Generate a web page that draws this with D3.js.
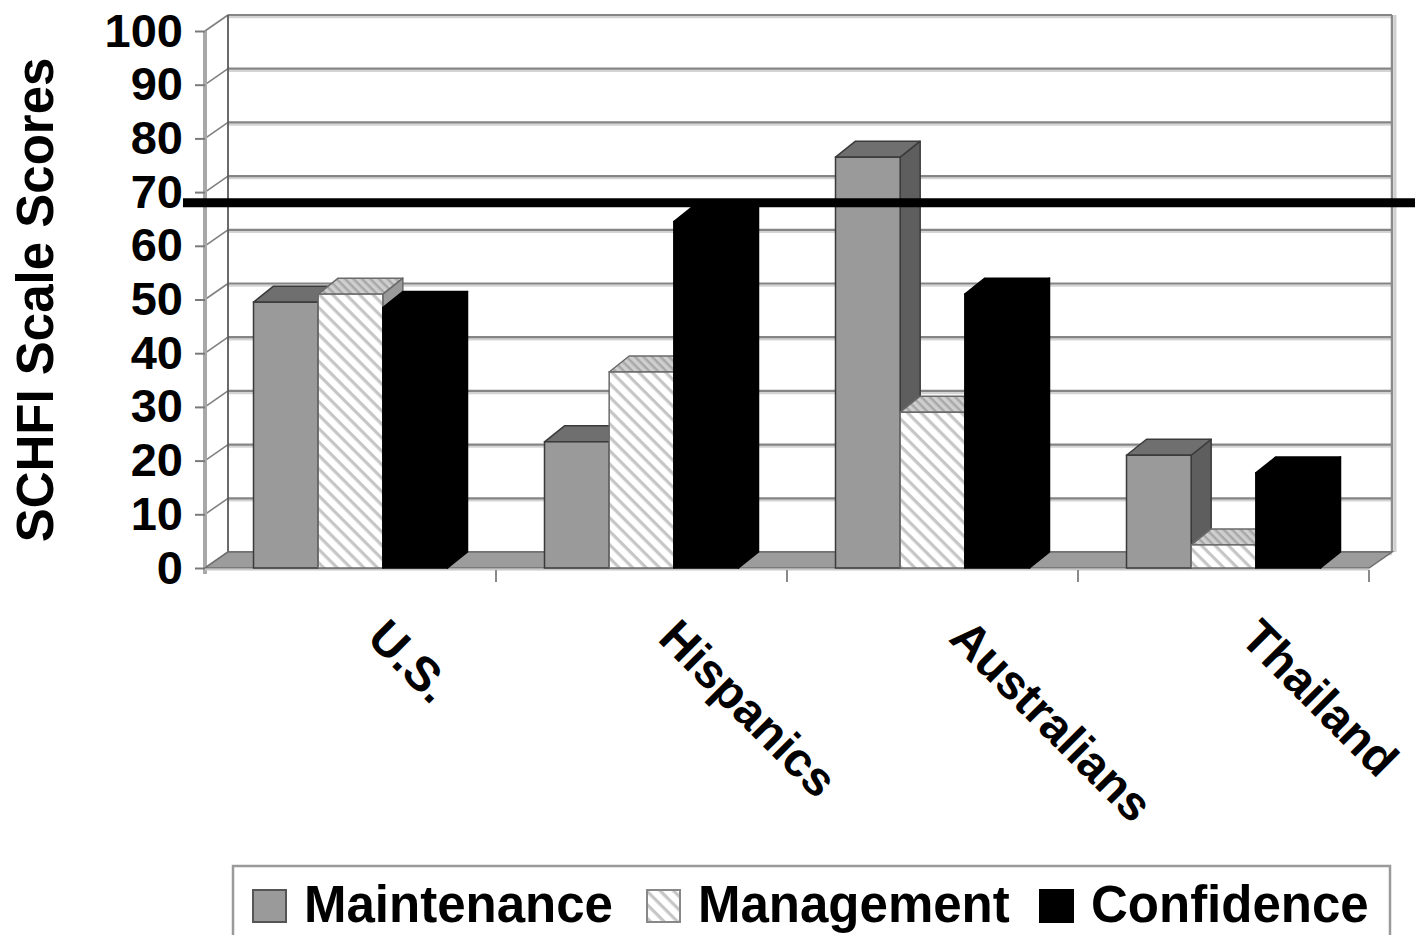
<!DOCTYPE html>
<html>
<head>
<meta charset="utf-8">
<script src="https://cdn.jsdelivr.net/npm/d3@7/dist/d3.min.js"></script>
<style>
  html, body { margin: 0; padding: 0; background: #fff; }
  svg { display: block; }
  text { font-family: "Liberation Sans", Arial, sans-serif; font-weight: bold; fill: #000; }
</style>
</head>
<body>
<svg id="chart" width="1415" height="935"></svg>
<script>
// SCHFI subscale scores by sample
const categories = ["U.S.", "Hispanics", "Australians", "Thailand"];
const seriesNames = ["Maintenance", "Management", "Confidence"];
const maintenance = [49.5, 23.5, 76.5, 21];
const management = [51, 36.5, 29, 4.3];
const confidence = [48.5, 64.5, 51, 17.7];
const yTicks = [0, 10, 20, 30, 40, 50, 60, 70, 80, 90, 100];
const cutoff = 68;
const yTitle = "SCHFI Scale Scores";

const seriesValues = [maintenance, management, confidence];

const svg = d3.select("#chart");
const defs = svg.append("defs");

// diagonal hatch used by the Management series
defs.append("pattern")
  .attr("id", "hatch")
  .attr("patternUnits", "userSpaceOnUse")
  .attr("width", 9.5).attr("height", 9.5)
  .attr("patternTransform", "rotate(45)")
  .call(p => {
    p.append("rect").attr("width", 9.5).attr("height", 9.5).attr("fill", "#fff");
    p.append("rect").attr("width", 9.5).attr("height", 3.2).attr("fill", "#c6c6c6");
  });
defs.append("pattern")
  .attr("id", "hatchTop")
  .attr("patternUnits", "userSpaceOnUse")
  .attr("width", 6).attr("height", 6)
  .attr("patternTransform", "rotate(45)")
  .call(p => {
    p.append("rect").attr("width", 6).attr("height", 6).attr("fill", "#cfcfcf");
    p.append("rect").attr("width", 6).attr("height", 2.5).attr("fill", "#a8a8a8");
  });

// plot geometry: front plane plus a receding depth
const x0 = 205, x1 = 1369;
const wallDX = 23, wallDY = -16;
const barDX = 20, barDY = -16;

const y = d3.scaleLinear().domain([0, 100]).range([568, 31]);
const x = d3.scaleBand().domain(categories).range([x0, x1])
  .paddingInner(1 / 3).paddingOuter(1 / 6);
const xs = d3.scaleBand().domain(seriesNames).range([0, x.bandwidth()]);

const faces = {
  Maintenance: { front: "#9a9a9a", top: "#6f6f6f", side: "#5e5e5e", stroke: "#3a3a3a" },
  Management: { front: "url(#hatch)", top: "url(#hatchTop)", side: "#9a9a9a", stroke: "#6a6a6a" },
  Confidence: { front: "#000", top: "#000", side: "#000", stroke: "#000" }
};

// back wall gridlines
const grid = svg.append("g");
yTicks.forEach(t => {
  const yy = y(t) + wallDY;
  grid.append("line")
    .attr("x1", x0 + wallDX).attr("x2", x1 + wallDX)
    .attr("y1", yy + 2).attr("y2", yy + 2)
    .attr("stroke", "#d4d4d4").attr("stroke-width", 2.5);
  grid.append("line")
    .attr("x1", x0 + wallDX).attr("x2", x1 + wallDX)
    .attr("y1", yy).attr("y2", yy)
    .attr("stroke", "#858585").attr("stroke-width", 2.2);
  // receding lines on the side wall
  grid.append("line")
    .attr("x1", x0).attr("y1", y(t))
    .attr("x2", x0 + wallDX).attr("y2", yy)
    .attr("stroke", "#808080").attr("stroke-width", 1.6);
});
// wall edges
grid.append("line")
  .attr("x1", x0 + wallDX).attr("x2", x0 + wallDX)
  .attr("y1", y(100) + wallDY).attr("y2", y(0) + wallDY)
  .attr("stroke", "#5a5a5a").attr("stroke-width", 1.8);
grid.append("line")
  .attr("x1", x1 + wallDX).attr("x2", x1 + wallDX)
  .attr("y1", y(100) + wallDY).attr("y2", y(0) + wallDY)
  .attr("stroke", "#8a8a8a").attr("stroke-width", 2.5);
grid.append("line")
  .attr("x1", x1 + wallDX + 3).attr("x2", x1 + wallDX + 3)
  .attr("y1", y(100) + wallDY).attr("y2", y(0) + wallDY)
  .attr("stroke", "#d0d0d0").attr("stroke-width", 3);

// value axis on the front plane
const yAxis = d3.axisLeft(y).tickValues(yTicks).tickSize(10).tickPadding(12);
const ya = svg.append("g").attr("transform", `translate(${x0},0)`).call(yAxis);
ya.select(".domain").attr("stroke", "#a8a8a8").attr("stroke-width", 4)
  .attr("d", `M0,${y(100)}V${y(0) + 6}`);
ya.selectAll(".tick line").attr("stroke", "#7a7a7a").attr("stroke-width", 2);
ya.selectAll(".tick text")
  .style("font-size", "47px")
  .style("font-family", "'Liberation Sans', Arial, sans-serif")
  .style("font-weight", "bold")
  .attr("fill", "#000");

// floor
const floorPts = [
  [x0, y(0)], [x1, y(0)], [x1 + wallDX, y(0) + wallDY], [x0 + wallDX, y(0) + wallDY]
];
svg.append("polygon")
  .attr("points", floorPts.map(p => p.join(",")).join(" "))
  .attr("fill", "#9c9c9c").attr("stroke", "#6e6e6e").attr("stroke-width", 1.5);
svg.append("line")
  .attr("x1", x0).attr("x2", x1).attr("y1", y(0) + 1.5).attr("y2", y(0) + 1.5)
  .attr("stroke", "#c8c8c8").attr("stroke-width", 2);

// category boundary ticks under the floor
const bounds = categories.map(c => x(c) - x.step() * x.paddingInner() / 2).concat([x1]);
svg.append("g").selectAll("line").data(bounds.slice(1)).join("line")
  .attr("x1", d => d).attr("x2", d => d)
  .attr("y1", y(0) + 2).attr("y2", y(0) + 14)
  .attr("stroke", "#8a8a8a").attr("stroke-width", 2);

// 3-D columns, painted left to right
const bars = svg.append("g");
categories.forEach((cat, ci) => {
  seriesNames.forEach((s, si) => {
    const v = seriesValues[si][ci];
    const f = faces[s];
    const bx0 = x(cat) + xs(s), bx1 = bx0 + xs.bandwidth();
    const yt = y(v), yb = y(0);
    const g = bars.append("g");
    g.append("polygon")
      .attr("points", [[bx1, yt], [bx1 + barDX, yt + barDY], [bx1 + barDX, yb + barDY], [bx1, yb]]
        .map(p => p.join(",")).join(" "))
      .attr("fill", f.side).attr("stroke", f.stroke).attr("stroke-width", 1.5)
      .attr("stroke-linejoin", "round");
    g.append("polygon")
      .attr("points", [[bx0, yt], [bx1, yt], [bx1 + barDX, yt + barDY], [bx0 + barDX, yt + barDY]]
        .map(p => p.join(",")).join(" "))
      .attr("fill", f.top).attr("stroke", f.stroke).attr("stroke-width", 1.5)
      .attr("stroke-linejoin", "round");
    g.append("rect")
      .attr("x", bx0).attr("y", yt)
      .attr("width", bx1 - bx0).attr("height", yb - yt)
      .attr("fill", f.front).attr("stroke", f.stroke).attr("stroke-width", 1.5);
  });
});

// cutoff line across the plot
svg.append("line")
  .attr("x1", 183).attr("x2", 1415)
  .attr("y1", y(cutoff)).attr("y2", y(cutoff))
  .attr("stroke", "#000").attr("stroke-width", 9);

// category labels at 45 degrees
svg.append("g").selectAll("text").data(categories).join("text")
  .attr("transform", d => `translate(${x(d) + x.bandwidth() / 2 + 15},${640}) rotate(45)`)
  .attr("text-anchor", "start")
  .style("font-size", "48px")
  .text(d => d);

// axis title
svg.append("text")
  .attr("transform", `translate(53,300) rotate(-90)`)
  .attr("text-anchor", "middle")
  .style("font-size", "51px")
  .text(yTitle);

// legend
const lg = svg.append("g");
lg.append("rect")
  .attr("x", 233).attr("y", 866).attr("width", 1157).attr("height", 90)
  .attr("fill", "#fff").attr("stroke", "#9a9a9a").attr("stroke-width", 2.5);
const legendX = [253, 647, 1040];
const swatchFill = { Maintenance: "#9a9a9a", Management: "url(#hatch)", Confidence: "#000" };
const swatchStroke = { Maintenance: "#555", Management: "#888", Confidence: "#000" };
seriesNames.forEach((s, i) => {
  lg.append("rect")
    .attr("x", legendX[i]).attr("y", 890).attr("width", 33).attr("height", 32)
    .attr("fill", swatchFill[s]).attr("stroke", swatchStroke[s]).attr("stroke-width", 2);
  lg.append("text")
    .attr("x", legendX[i] + 51).attr("y", 922)
    .style("font-size", "51px")
    .text(s);
});
</script>
</body>
</html>
